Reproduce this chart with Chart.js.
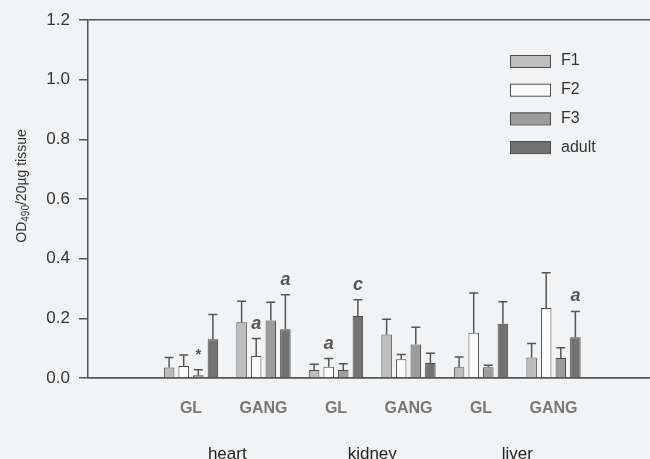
<!DOCTYPE html>
<html>
<head>
<meta charset="utf-8">
<script src="https://cdn.jsdelivr.net/npm/chart.js@4.4.0/dist/chart.umd.min.js"></script>
<style>
  html, body { margin: 0; padding: 0; background: #f1f3f5; }
  #wrap { width: 650px; height: 459px; }
</style>
</head>
<body>
<div id="wrap"><canvas id="myChart" width="650" height="459"></canvas></div>
<script>
// categories along the axis, and the tissue groups under them
const categories = ['GL', 'GANG', 'GL', 'GANG', 'GL', 'GANG'];
const tissues = ['heart', 'kidney', 'liver'];
const tissueTicks = [0.5, 2.5, 4.5];
const yTicks = [0, 0.2, 0.4, 0.6, 0.8, 1.0, 1.2];

// bar heights (OD490 / 20ug tissue)
const seriesNames = ['F1', 'F2', 'F3', 'adult'];
const F1 = [0.035, 0.187, 0.027, 0.146, 0.036, 0.069];
const F2 = [0.040, 0.074, 0.038, 0.063, 0.152, 0.235];
const F3 = [0.009, 0.193, 0.027, 0.112, 0.036, 0.067];
const adult = [0.130, 0.163, 0.208, 0.050, 0.182, 0.137];

// upper error bars
const F1Err = [0.034, 0.070, 0.019, 0.051, 0.034, 0.047];
const F2Err = [0.037, 0.058, 0.027, 0.016, 0.133, 0.118];
const F3Err = [0.019, 0.061, 0.021, 0.058, 0.007, 0.034];
const adultErr = [0.083, 0.116, 0.054, 0.033, 0.074, 0.086];

// significance marks above the bars
const F1Marks = ['', '', '', '', '', ''];
const F2Marks = ['', 'a', 'a', '', '', ''];
const F3Marks = ['*', '', '', '', '', ''];
const adultMarks = ['', 'a', 'c', '', '', 'a'];

const fills = ['#bdbdbd', '#fbfbfb', '#9c9c9c', '#727272'];
const lineCol = '#4a4a4a';

function toPoints(arr) {
  return arr.map((v, i) => ({ x: i, y: v }));
}

const allValues = [F1, F2, F3, adult];
const allErr = [F1Err, F2Err, F3Err, adultErr];
const allMarks = [F1Marks, F2Marks, F3Marks, adultMarks];

const datasets = seriesNames.map((name, i) => ({
  label: name,
  data: toPoints(allValues[i]),
  err: allErr[i],
  marks: allMarks[i],
  backgroundColor: fills[i],
  borderColor: lineCol,
  borderWidth: 1,
  categoryPercentage: 0.805,
  barPercentage: 0.72
}));

const bgPlugin = {
  id: 'bg',
  beforeDraw(chart) {
    const c = chart.ctx;
    c.save();
    c.fillStyle = '#f1f3f5';
    c.fillRect(0, 0, chart.width, chart.height);
    c.restore();
  }
};

const errorBars = {
  id: 'errorBars',
  afterDatasetsDraw(chart) {
    const c = chart.ctx;
    const yScale = chart.scales.y;
    c.save();
    chart.data.datasets.forEach((ds, di) => {
      const meta = chart.getDatasetMeta(di);
      meta.data.forEach((bar, i) => {
        const top = yScale.getPixelForValue(ds.data[i].y + ds.err[i]);
        c.strokeStyle = '#555';
        c.lineWidth = 1.5;
        c.beginPath();
        c.moveTo(bar.x, bar.y);
        c.lineTo(bar.x, top);
        c.moveTo(bar.x - 4.5, top);
        c.lineTo(bar.x + 4.5, top);
        c.stroke();
        if (ds.marks[i]) {
          c.fillStyle = '#555';
          c.textAlign = 'center';
          c.textBaseline = 'middle';
          c.font = ds.marks[i] === '*' ? 'bold 15px "Liberation Sans", Arial' : 'italic bold 18px "Liberation Sans", Arial';
          c.fillText(ds.marks[i], bar.x, top - 15);
        }
      });
    });
    c.restore();
  }
};

const customLegend = {
  id: 'customLegend',
  afterDraw(chart) {
    const c = chart.ctx;
    c.save();
    chart.data.datasets.forEach((ds, i) => {
      const y = 61 + i * 28.7;
      c.fillStyle = ds.backgroundColor;
      c.fillRect(510, y - 6, 40, 12);
      c.strokeStyle = lineCol;
      c.lineWidth = 1;
      c.strokeRect(510.5, y - 5.5, 40, 12);
      c.fillStyle = '#333';
      c.font = '16px "Liberation Sans", Arial';
      c.textAlign = 'left';
      c.textBaseline = 'middle';
      c.fillText(ds.label, 561, y);
    });
    c.restore();
  }
};

const yTitle = {
  id: 'yTitle',
  afterDraw(chart) {
    const c = chart.ctx;
    const main = '14px "Liberation Sans", Arial';
    const sub = '10px "Liberation Sans", Arial';
    c.save();
    c.font = main;
    const w1 = c.measureText('OD').width;
    const w3 = c.measureText('/20µg tissue').width;
    c.font = sub;
    const w2 = c.measureText('490').width;
    const total = w1 + w2 + w3;
    c.translate(22, 186);
    c.rotate(-Math.PI / 2);
    c.fillStyle = '#333';
    c.textBaseline = 'middle';
    c.textAlign = 'left';
    let x = -total / 2;
    c.font = main;
    c.fillText('OD', x, 0);
    x += w1;
    c.font = sub;
    c.fillText('490', x, 4);
    x += w2;
    c.font = main;
    c.fillText('/20µg tissue', x, 0);
    c.restore();
  }
};

const ctx = document.querySelector('#myChart');
const chart = new Chart(ctx, {
  type: 'bar',
  data: { datasets: datasets },
  options: {
    responsive: false,
    animation: false,
    layout: { padding: { top: 20, right: 0, left: 0, bottom: 0 } },
    plugins: {
      legend: { display: false },
      tooltip: { enabled: false }
    },
    scales: {
      x: {
        type: 'linear',
        offset: false,
        min: -1.4207,
        max: 6.331,
        position: 'bottom',
        grid: { display: false },
        border: { display: true, color: '#555', width: 1.5 },
        afterBuildTicks(scale) {
          scale.ticks = categories.map((c, i) => ({ value: i }));
        },
        afterFit(scale) { scale.height = 50; },
        ticks: {
          padding: 13,
          color: '#777',
          font: { family: '"Liberation Sans", Arial', size: 16, weight: 'bold' },
          callback: (v, i) => categories[i]
        }
      },
      x2: {
        type: 'linear',
        offset: false,
        min: -1.4207,
        max: 6.331,
        position: 'bottom',
        grid: { display: false },
        border: { display: false },
        afterBuildTicks(scale) {
          scale.ticks = tissueTicks.map((v) => ({ value: v }));
        },
        afterFit(scale) { scale.height = 31; },
        ticks: {
          padding: 8,
          color: '#222',
          font: { family: '"Liberation Sans", Arial', size: 17 },
          callback: (v, i) => tissues[i]
        }
      },
      y: {
        min: 0,
        max: 1.2,
        afterBuildTicks(scale) {
          scale.ticks = yTicks.map((v) => ({ value: v }));
        },
        afterFit(scale) { scale.width = 88; },
        grid: {
          drawOnChartArea: true,
          tickLength: 9,
          lineWidth: 1.5,
          color: (c) => (c.tick && (c.tick.value === 0 || c.tick.value === 1.2) ? '#555' : 'rgba(0,0,0,0)'),
          tickColor: '#555'
        },
        border: { display: true, color: '#555', width: 1.5 },
        ticks: {
          padding: 9,
          color: '#333',
          font: { family: '"Liberation Sans", Arial', size: 17 },
          callback: (v) => v.toFixed(1)
        }
      }
    }
  },
  plugins: [bgPlugin, errorBars, customLegend, yTitle]
});
</script>
</body>
</html>
